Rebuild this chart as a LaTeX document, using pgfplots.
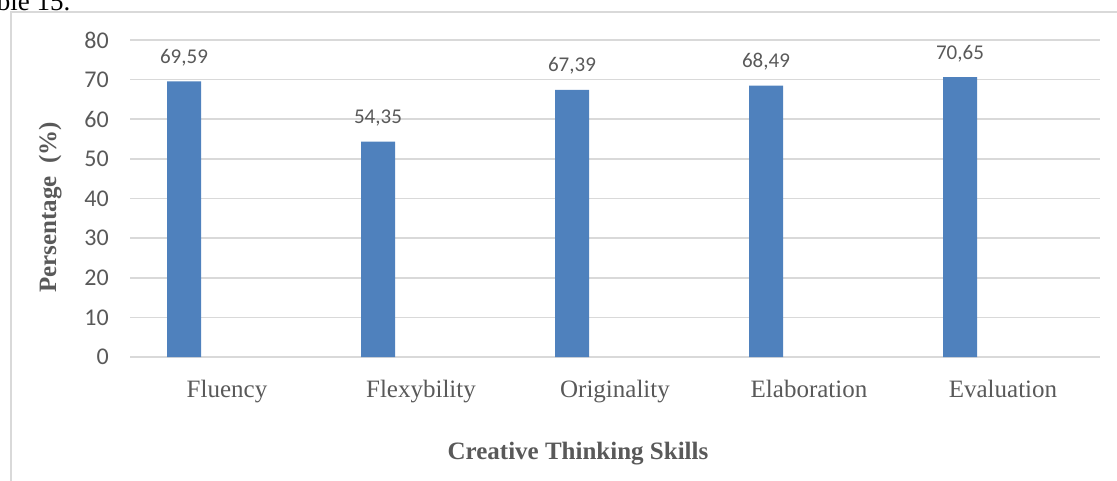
\documentclass[border=0pt]{standalone}
\usepackage{fontspec}
\setmainfont{Liberation Serif}
\newfontfamily\calibri{Carlito}
\usepackage{pgfplots}
\pgfplotsset{compat=1.18}
\definecolor{barblue}{HTML}{4F81BD}
\definecolor{gridgray}{HTML}{D9D9D9}
\definecolor{tickgray}{HTML}{595959}
\definecolor{titlegray}{HTML}{595959}
\begin{document}
\begin{tikzpicture}
\useasboundingbox (0,0) rectangle (1117pt,480pt);
\draw[color=gridgray, line width=2pt] (11pt,-5pt) -- (11pt,468pt) -- (1125pt,468pt);
\node[anchor=base west, inner sep=0pt, font=\fontsize{27}{30}\selectfont] at (-30pt,469.5pt) {Table 15.};
\begin{axis}[
  at={(130pt,123pt)}, anchor=south west,
  width=970pt, height=317pt, scale only axis,
  xmin=-0.5, xmax=4.5, ymin=0, ymax=80,
  ytick={0,10,...,80},
  xtick={0,1,2,3,4},
  xticklabels={Fluency,Flexybility,Originality,Elaboration,Evaluation},
  ymajorgrids,
  grid style={color=gridgray, line width=1.6pt},
  axis line style={draw=none},
  major tick length=0pt,
  tick style={draw=none},
  /pgf/number format/assume math mode=true,
  yticklabel style={font=\calibri\fontsize{24}{26}\selectfont, color=tickgray, inner sep=0pt, anchor=east, xshift=-21pt},
  xticklabel style={font=\fontsize{25}{28}\selectfont, color=tickgray, inner sep=0pt, anchor=base, yshift=-40pt},
  ybar,
  clip=false,
  nodes near coords={\pgfmathprintnumber[fixed,fixed zerofill,precision=2,use comma,assume math mode=true]{\pgfplotspointmeta}},
  every node near coord/.append style={font=\calibri\fontsize{21}{23}\selectfont, color=tickgray, anchor=base, inner sep=0pt, yshift=18pt},
]
\addplot[fill=barblue, draw=none, bar width=34pt, bar shift=-43pt] coordinates {(0,69.59) (1,54.35) (2,67.39) (3,68.49) (4,70.65)};
\end{axis}
\node[anchor=base, inner sep=0pt, font=\bfseries\fontsize{25}{28}\selectfont, color=titlegray] at (578pt,21pt) {Creative Thinking Skills};
\node[anchor=base, inner sep=0pt, rotate=90, font=\bfseries\fontsize{25}{28}\selectfont, color=titlegray] at (56pt,272.5pt) {Persentage~ (\%)};
\end{tikzpicture}
\end{document}
